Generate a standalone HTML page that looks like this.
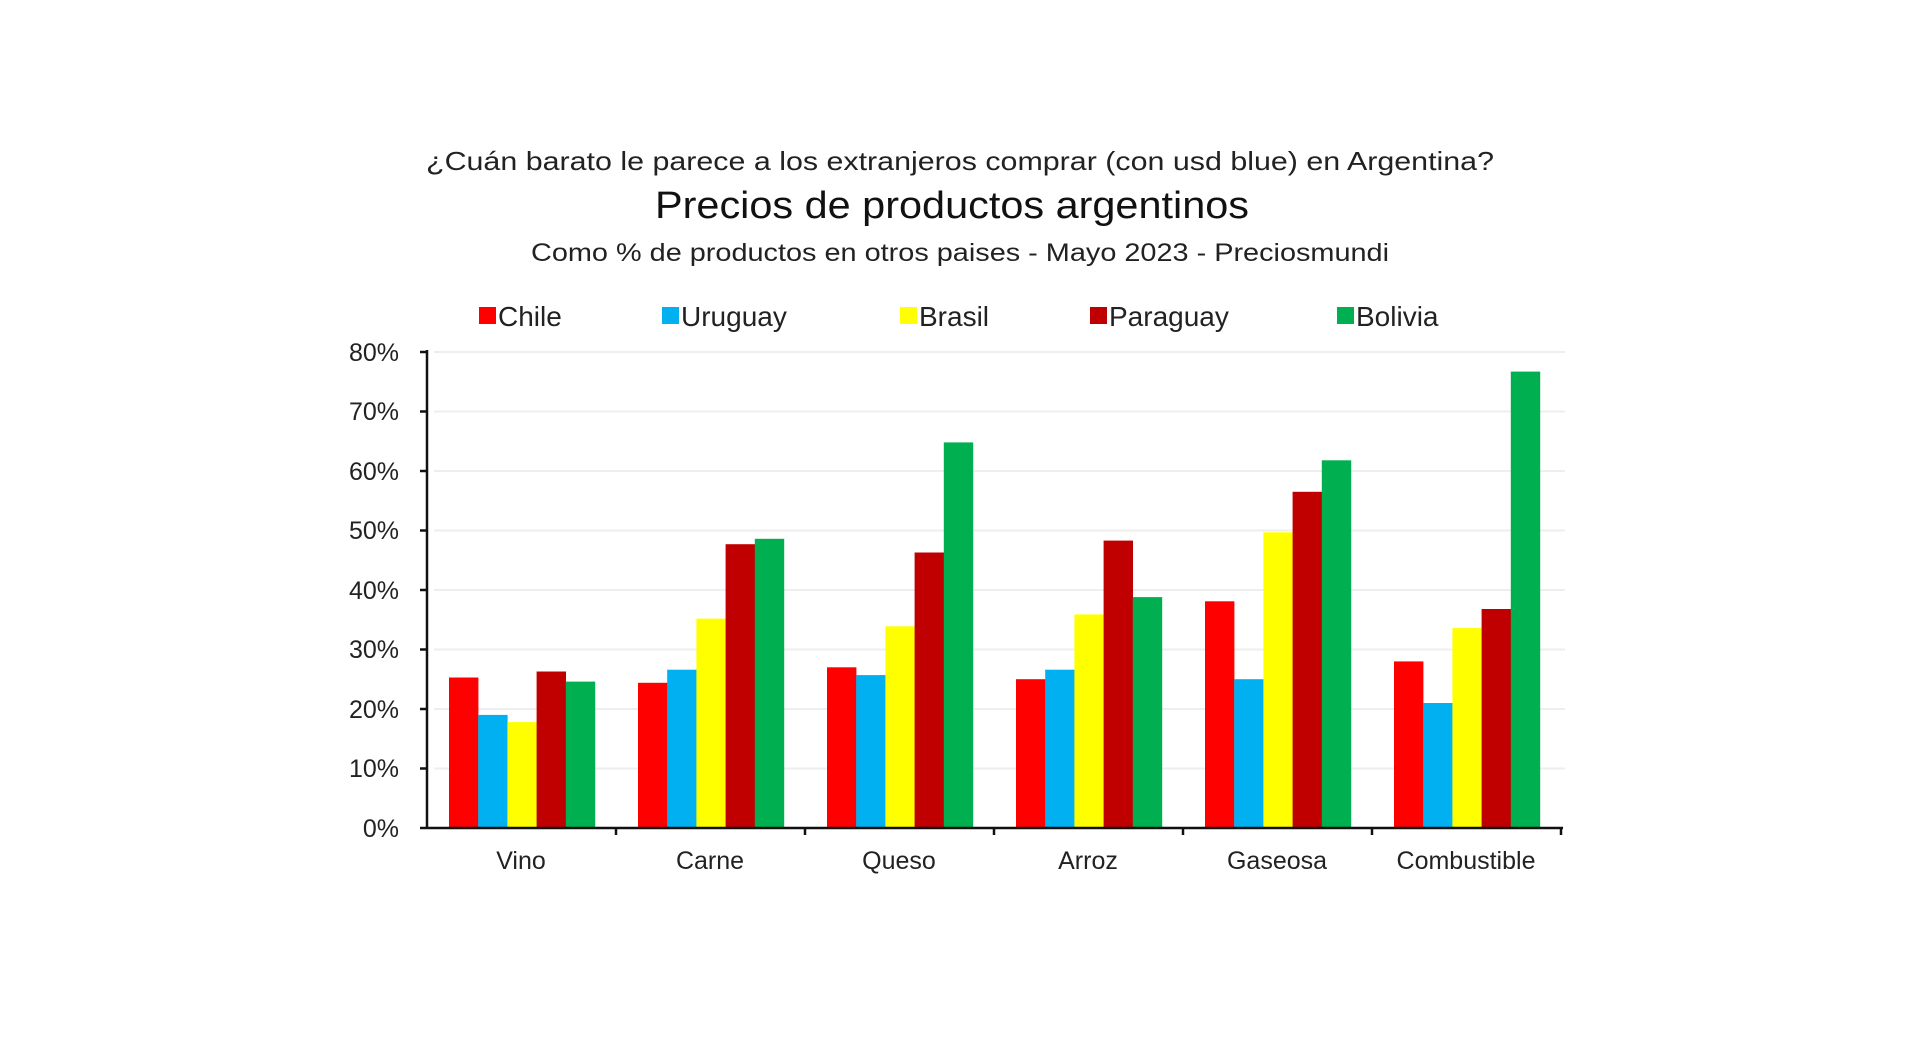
<!DOCTYPE html>
<html><head><meta charset="utf-8"><style>
html,body{margin:0;padding:0;background:#fff;}
svg{display:block;font-family:"Liberation Sans",Arial,sans-serif;}
</style></head><body>
<svg width="1920" height="1053" viewBox="0 0 1920 1053" xmlns="http://www.w3.org/2000/svg">
<rect width="1920" height="1053" fill="#fff"/>
<text x="960" y="170" text-anchor="middle" font-size="26" fill="#222" textLength="1068" lengthAdjust="spacingAndGlyphs">¿Cuán barato le parece a los extranjeros comprar (con usd blue) en Argentina?</text>
<text x="952" y="218" text-anchor="middle" font-size="38" fill="#111" textLength="594" lengthAdjust="spacingAndGlyphs">Precios de productos argentinos</text>
<text x="960" y="261" text-anchor="middle" font-size="25" fill="#222" textLength="858" lengthAdjust="spacingAndGlyphs">Como % de productos en otros paises - Mayo 2023 - Preciosmundi</text>
<g font-size="28" fill="#222">
<rect x="479" y="307" width="17" height="17" fill="#ff0000"/><text x="498" y="326">Chile</text>
<rect x="662" y="307" width="17" height="17" fill="#00b0f0"/><text x="681" y="326">Uruguay</text>
<rect x="900" y="307" width="17" height="17" fill="#ffff00"/><text x="919" y="326">Brasil</text>
<rect x="1090" y="307" width="17" height="17" fill="#c00000"/><text x="1109" y="326">Paraguay</text>
<rect x="1337" y="307" width="17" height="17" fill="#00b050"/><text x="1356" y="326">Bolivia</text>
</g>
<g stroke="#eee" stroke-width="2">
<line x1="434" x2="1565" y1="352" y2="352"/><line x1="434" x2="1565" y1="411.5" y2="411.5"/>
<line x1="434" x2="1565" y1="471" y2="471"/><line x1="434" x2="1565" y1="530.5" y2="530.5"/>
<line x1="434" x2="1565" y1="590" y2="590"/><line x1="434" x2="1565" y1="649.5" y2="649.5"/>
<line x1="434" x2="1565" y1="709" y2="709"/><line x1="434" x2="1565" y1="768.5" y2="768.5"/>
</g>
<g font-size="25" fill="#222" text-anchor="end">
<text x="399" y="361">80%</text><text x="399" y="420">70%</text><text x="399" y="480">60%</text>
<text x="399" y="539">50%</text><text x="399" y="599">40%</text><text x="399" y="658">30%</text>
<text x="399" y="718">20%</text><text x="399" y="777">10%</text><text x="399" y="837">0%</text>
</g>
<g>
<rect x="449" y="677.5" width="29.4" height="150.5" fill="#ff0000"/>
<rect x="478.2" y="714.9" width="29.4" height="113.1" fill="#00b0f0"/>
<rect x="507.4" y="722.1" width="29.4" height="105.9" fill="#ffff00"/>
<rect x="536.6" y="671.5" width="29.4" height="156.5" fill="#c00000"/>
<rect x="565.8" y="681.6" width="29.4" height="146.4" fill="#00b050"/>

<rect x="638" y="682.8" width="29.4" height="145.2" fill="#ff0000"/>
<rect x="667.2" y="669.7" width="29.4" height="158.3" fill="#00b0f0"/>
<rect x="696.4" y="618.6" width="29.4" height="209.4" fill="#ffff00"/>
<rect x="725.6" y="544.2" width="29.4" height="283.8" fill="#c00000"/>
<rect x="754.8" y="538.8" width="29.4" height="289.2" fill="#00b050"/>

<rect x="827" y="667.3" width="29.4" height="160.7" fill="#ff0000"/>
<rect x="856.2" y="675.1" width="29.4" height="152.9" fill="#00b0f0"/>
<rect x="885.4" y="626.3" width="29.4" height="201.7" fill="#ffff00"/>
<rect x="914.6" y="552.5" width="29.4" height="275.5" fill="#c00000"/>
<rect x="943.8" y="442.4" width="29.4" height="385.6" fill="#00b050"/>

<rect x="1016" y="679.2" width="29.4" height="148.8" fill="#ff0000"/>
<rect x="1045.2" y="669.7" width="29.4" height="158.3" fill="#00b0f0"/>
<rect x="1074.4" y="614.4" width="29.4" height="213.6" fill="#ffff00"/>
<rect x="1103.6" y="540.6" width="29.4" height="287.4" fill="#c00000"/>
<rect x="1132.8" y="597.1" width="29.4" height="230.9" fill="#00b050"/>

<rect x="1205" y="601.3" width="29.4" height="226.7" fill="#ff0000"/>
<rect x="1234.2" y="679.2" width="29.4" height="148.8" fill="#00b0f0"/>
<rect x="1263.4" y="532.3" width="29.4" height="295.7" fill="#ffff00"/>
<rect x="1292.6" y="491.8" width="29.4" height="336.2" fill="#c00000"/>
<rect x="1321.8" y="460.3" width="29.4" height="367.7" fill="#00b050"/>

<rect x="1394" y="661.4" width="29.4" height="166.6" fill="#ff0000"/>
<rect x="1423.2" y="703" width="29.4" height="125" fill="#00b0f0"/>
<rect x="1452.4" y="628.1" width="29.4" height="199.9" fill="#ffff00"/>
<rect x="1481.6" y="609" width="29.4" height="219" fill="#c00000"/>
<rect x="1510.8" y="371.6" width="29.4" height="456.4" fill="#00b050"/>
</g>
<g stroke="#111" stroke-width="2.5">
<line x1="427" y1="350" x2="427" y2="829"/>
<line x1="420" y1="828" x2="1563" y2="828"/>
<line x1="420" y1="352" x2="427" y2="352"/><line x1="420" y1="411.5" x2="427" y2="411.5"/>
<line x1="420" y1="471" x2="427" y2="471"/><line x1="420" y1="530.5" x2="427" y2="530.5"/>
<line x1="420" y1="590" x2="427" y2="590"/><line x1="420" y1="649.5" x2="427" y2="649.5"/>
<line x1="420" y1="709" x2="427" y2="709"/><line x1="420" y1="768.5" x2="427" y2="768.5"/>
<line x1="616" y1="828" x2="616" y2="835"/><line x1="805" y1="828" x2="805" y2="835"/>
<line x1="994" y1="828" x2="994" y2="835"/><line x1="1183" y1="828" x2="1183" y2="835"/>
<line x1="1372" y1="828" x2="1372" y2="835"/><line x1="1561" y1="828" x2="1561" y2="835"/>
</g>
<g font-size="25" fill="#222" text-anchor="middle">
<text x="521" y="869">Vino</text><text x="710" y="869">Carne</text><text x="899" y="869">Queso</text>
<text x="1088" y="869">Arroz</text><text x="1277" y="869">Gaseosa</text><text x="1466" y="869">Combustible</text>
</g>
</svg>
</body></html>
